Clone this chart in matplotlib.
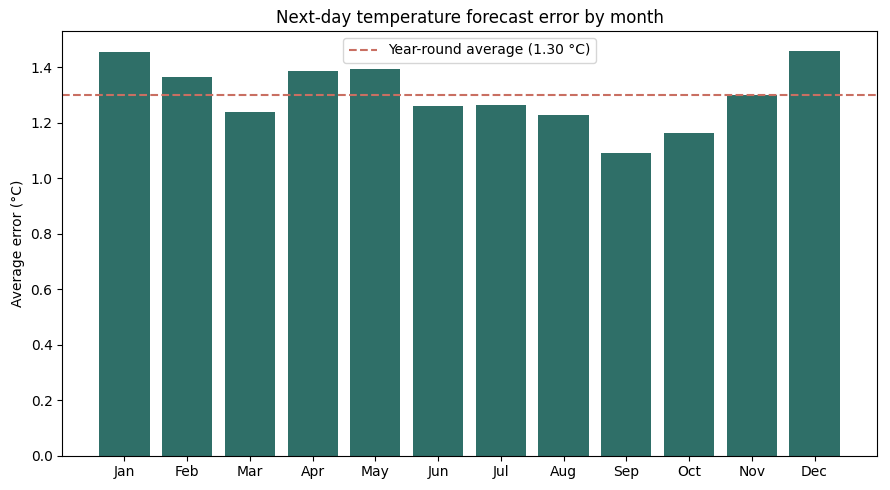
import matplotlib
matplotlib.use("Agg")
import matplotlib.pyplot as plt

months = ["Jan", "Feb", "Mar", "Apr", "May", "Jun", "Jul", "Aug", "Sep", "Oct", "Nov", "Dec"]
errors = [1.455, 1.365, 1.240, 1.387, 1.394, 1.261, 1.264, 1.229, 1.092, 1.164, 1.300, 1.459]
avg_value = 1.30

fig, ax = plt.subplots(figsize=(8.9, 4.9), dpi=100)
ax.bar(months, errors, width=0.8, color="#2f6f68")
ax.axhline(avg_value, color="#c96f62", linestyle="--", linewidth=1.5,
           label=f"Year-round average ({avg_value:.2f} °C)")
ax.set_ylabel("Average error (°C)")
ax.set_title("Next-day temperature forecast error by month")
ax.legend(loc="upper center")
fig.subplots_adjust(left=0.07, right=0.985, top=0.937, bottom=0.07)
fig.savefig("out.png", dpi=100)
